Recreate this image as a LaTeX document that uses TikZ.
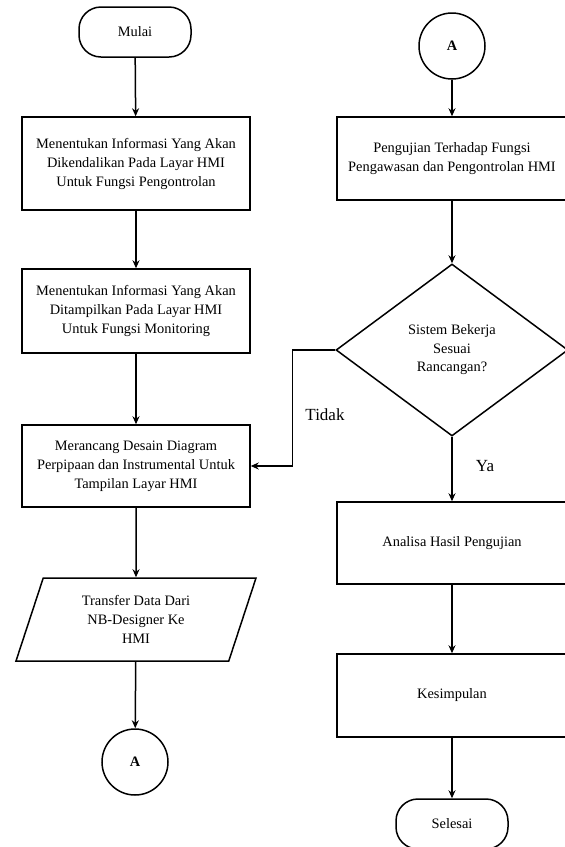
\documentclass[tikz,border=0pt]{standalone}
\usepackage{fontspec}
\setmainfont{Liberation Serif}
\usetikzlibrary{shapes.geometric, arrows.meta}

\begin{document}
\begin{tikzpicture}[x=1pt, y=-1pt, line width=1.5pt, >={Stealth[length=8pt, width=7pt]},
  every node/.style={font=\fontsize{14.4}{19}\selectfont, align=center, inner sep=0pt},
  proses/.style={draw, rectangle, minimum width=228pt, minimum height=83pt},
  terminal/.style={draw, rectangle, rounded corners=22pt, minimum width=112pt, minimum height=50pt},
  konektor/.style={draw, circle, minimum size=66pt, font=\fontsize{14.4}{19}\selectfont\bfseries},
  keputusan/.style={draw, diamond, minimum width=232pt, minimum height=172pt},
  masukan/.style={draw, trapezium, trapezium left angle=60.5, trapezium right angle=119.5,
    trapezium stretches body, minimum width=240pt, minimum height=83pt},
  ket/.style={font=\fontsize{17}{20}\selectfont}]
\useasboundingbox (0,0) rectangle (565,847);
\clip (0,0) rectangle (565,847);

% kolom kiri
\node[terminal] (mulai) at (135,32) {Mulai};
\node[proses, minimum height=93pt] (info1) at (136,163.5) {Menentukan Informasi Yang Akan\\Dikendalikan Pada Layar HMI\\Untuk Fungsi Pengontrolan};
\node[proses, minimum height=84pt] (info2) at (136,311) {Menentukan Informasi Yang Akan\\Ditampilkan Pada Layar HMI\\Untuk Fungsi Monitoring};
\node[proses, minimum height=82pt] (rancang) at (136,466) {Merancang Desain Diagram\\Perpipaan dan Instrumental Untuk\\Tampilan Layar HMI};
\node[masukan] (transfer) at (136,619.5) {Transfer Data Dari\\NB-Designer Ke\\HMI};
\node[konektor] (a1) at (135,762) {A};

% kolom kanan
\node[konektor] (a2) at (452,46) {A};
\node[proses, minimum width=230pt] (uji) at (452,158.5) {Pengujian Terhadap Fungsi\\Pengawasan dan Pengontrolan HMI};
\node[keputusan, font=\fontsize{14.4}{18.5}\selectfont] (cek) at (452,350) {Sistem Bekerja\\Sesuai\\Rancangan?};
\node[proses, minimum width=230pt, minimum height=82pt] (analisa) at (452,543) {Analisa Hasil Pengujian};
\node[proses, minimum width=230pt] (simpul) at (452,695.5) {Kesimpulan};
\node[terminal] (selesai) at (452,824) {Selesai};

\node[ket] (tidak) at (325,415) {Tidak};
\node[ket] (ya) at (485,466) {Ya};

% panah
\draw[->] (mulai) -- (info1);
\draw[->] (info1) -- (info2);
\draw[->] (info2) -- (rancang);
\draw[->] (rancang) -- (transfer);
\draw[->] (transfer) -- (a1);
\draw[->] (a2) -- (uji);
\draw[->] (uji) -- (cek);
\draw[->] (cek.west) -- ++(-43,0) |- (rancang.east);
\draw[->] (cek) -- (analisa);
\draw[->] (analisa) -- (simpul);
\draw[->] (simpul) -- (selesai);
\end{tikzpicture}
\end{document}
